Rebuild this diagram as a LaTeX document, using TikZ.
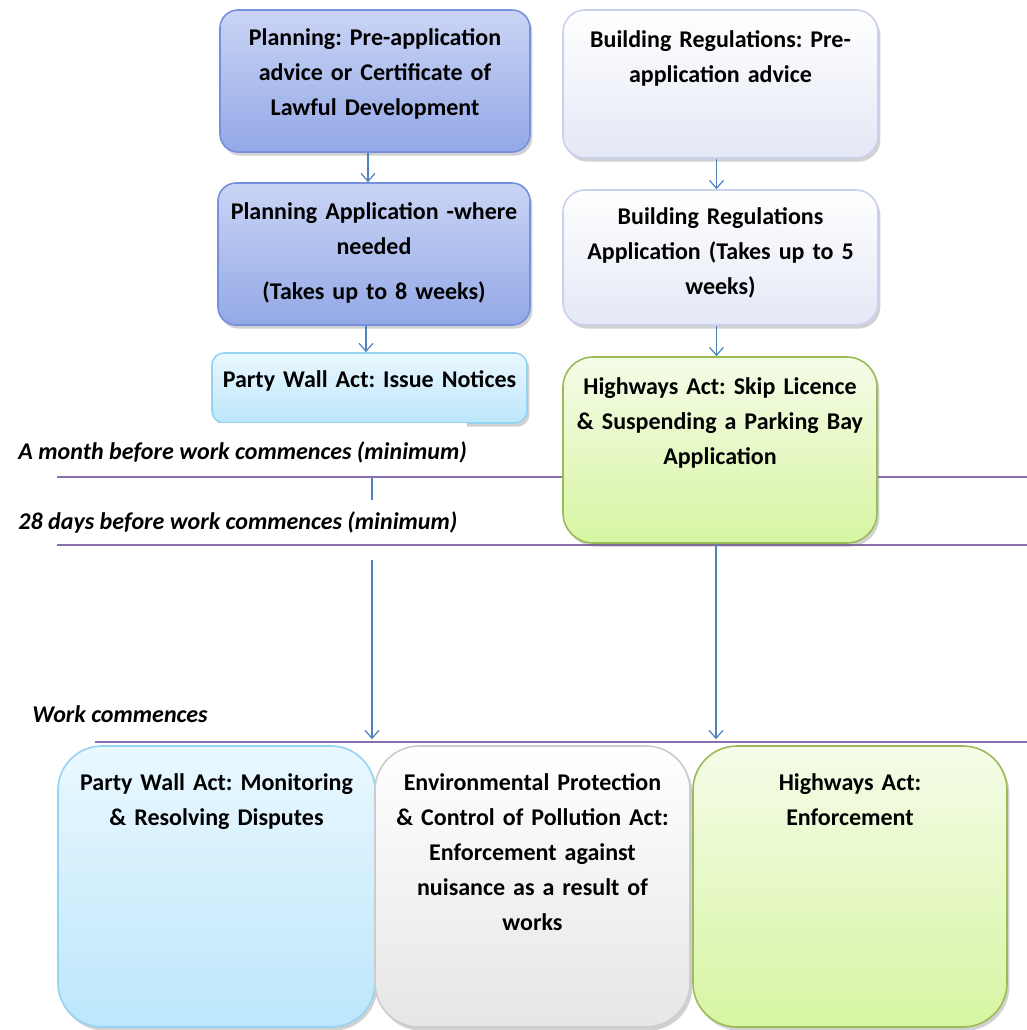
\documentclass[tikz,border=0pt]{standalone}
\usepackage{fontspec}
\setmainfont{Carlito}
\usetikzlibrary{arrows.meta, positioning, shadows}
\frenchspacing

\definecolor{planTop}{HTML}{CAD4F5}
\definecolor{planBot}{HTML}{93A8E6}
\definecolor{planLine}{HTML}{7590DC}
\definecolor{regBot}{HTML}{E4E8F5}
\definecolor{regLine}{HTML}{C9D1EC}
\definecolor{wallTop}{HTML}{EAF8FF}
\definecolor{wallBot}{HTML}{BCE6FB}
\definecolor{wallLine}{HTML}{96D3F3}
\definecolor{hwyTop}{HTML}{F5FCE8}
\definecolor{hwyBot}{HTML}{D7F5A2}
\definecolor{hwyLine}{HTML}{9BBB59}
\definecolor{envBot}{HTML}{E6E6E6}
\definecolor{envLine}{HTML}{CCCCCC}
\definecolor{timeline}{HTML}{8A6FB0}
\definecolor{flowc}{HTML}{4F81BD}

\begin{document}
\begin{tikzpicture}[x=0.5pt, y=-0.5pt,
    stage/.style={draw, line width=0.8pt, inner xsep=0pt, inner ysep=0pt, align=center,
      font=\fontsize{12pt}{17.5pt}\selectfont\bfseries,
      drop shadow={shadow xshift=1.2pt, shadow yshift=-1.8pt, opacity=0.3, fill=black!60}},
    planbox/.style={stage, draw=planLine, top color=planTop, bottom color=planBot, rounded corners=9pt},
    regbox/.style={stage, draw=regLine, top color=white, bottom color=regBot, rounded corners=11pt},
    wallbox/.style={stage, draw=wallLine, top color=wallTop, bottom color=wallBot},
    hwybox/.style={stage, draw=hwyLine, top color=hwyTop, bottom color=hwyBot},
    envbox/.style={stage, draw=envLine, top color=white, bottom color=envBot},
    flow/.style={draw=flowc, line width=0.6pt, -{Straight Barb[length=4pt, width=7pt]}},
    when/.style={font=\fontsize{12pt}{14pt}\selectfont\bfseries\itshape, inner sep=0pt},
    cutoff/.style={draw=timeline, line width=1pt}]
    \useasboundingbox (0,0) rectangle (1027,1030);
    % upper stages
    \node[planbox, minimum width=155pt, text width=150pt, text height=17.5pt, text depth=53.5pt] (plan-pre) at (375,81)
      {Planning: Pre-application\\advice or Certificate of\\Lawful Development};
    \node[regbox, minimum width=157.5pt, text width=152pt, text height=18.5pt, text depth=55.5pt] (reg-pre) at (720.5,84)
      {Building Regulations: Pre-\\application advice};
    \node[planbox, minimum width=156pt, text width=151pt, text height=18pt, text depth=53pt] (plan-app) at (374,254)
      {Planning Application -where\\needed\\[5pt](Takes up to 8 weeks)};
    \node[regbox, minimum width=157.5pt, text width=152pt, text height=17pt, text depth=50.5pt] (reg-app) at (720.5,257.5)
      {Building Regulations\\Application (Takes up to 5\\weeks)};
    \node[wallbox, rounded corners=6pt, minimum width=157.5pt, text width=152pt, text height=17pt, text depth=18pt] (wall-notice) at (369.5,388)
      {Party Wall Act: Issue Notices};
    % stages once work commences
    \node[wallbox, rounded corners=22pt, minimum width=158.5pt, text width=150pt, text height=22pt, text depth=118.5pt] (wall-watch) at (216.5,886.5)
      {Party Wall Act: Monitoring\\\& Resolving Disputes};
    \node[envbox, rounded corners=22pt, minimum width=157.5pt, text width=150pt, text height=22pt, text depth=118.5pt] (env-act) at (532.5,886.5)
      {Environmental Protection\\\& Control of Pollution Act:\\Enforcement against\\nuisance as a result of\\works};
    \node[hwybox, rounded corners=22pt, minimum width=157pt, text width=150pt, text height=22pt, text depth=118.5pt] (hwy-enf) at (850,886.5)
      {Highways Act:\\Enforcement};

    \draw[flow] ([xshift=-3.5pt]plan-pre.south) -- ([xshift=-3.5pt]plan-pre.south |- plan-app.north);
    \draw[flow] ([xshift=-2pt]reg-pre.south) -- ([xshift=-2pt]reg-pre.south |- reg-app.north);
    \draw[flow] ([xshift=-4pt]plan-app.south) -- ([xshift=-4pt]plan-app.south |- wall-notice.north);
    \draw[flow, shorten >=3pt] ([xshift=1.25pt]wall-notice.south) -- ([xshift=1.25pt]wall-notice.south |- wall-watch.north);

    % time marks
    \node[when, fill=white, anchor=south west, text height=18.5pt, text depth=8.5pt] (month) at (18,477)
      {A month before work commences (minimum)};
    \node[when, fill=white, anchor=south west, text height=15pt, text depth=15pt] (days) at (18,560)
      {28 days before work commences (minimum)};
    \node[when, anchor=base west] (start) at (32,722) {Work commences};
    \draw[cutoff] (57,477) -- (1027,477);
    \draw[cutoff] (57,545) -- (1027,545);
    \draw[cutoff] (95,742) -- (1027,742);

    \node[hwybox, rounded corners=15pt, minimum width=157pt, text width=152pt, text height=18.5pt, text depth=74.5pt] (hwy-skip) at (720,450)
      {Highways Act: Skip Licence\\\& Suspending a Parking Bay\\Application};
    \draw[flow] ([xshift=-2pt]reg-app.south) -- ([xshift=-2pt]reg-app.south |- hwy-skip.north);
    \draw[flow, shorten >=3pt] ([xshift=-2pt]hwy-skip.south) -- ([xshift=-2pt]hwy-skip.south |- hwy-enf.north);
\end{tikzpicture}
\end{document}
